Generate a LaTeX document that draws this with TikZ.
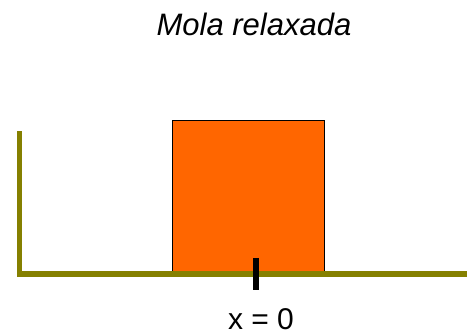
\documentclass[tikz,border=0pt]{standalone}
\usepackage{fontspec}
\setmainfont{Liberation Sans}
\definecolor{olivewall}{HTML}{858000}
\definecolor{blockorange}{HTML}{FF6600}
\tikzset{
  wall/.style={draw=olivewall, line width=5.5pt},
  block/.style={draw=black, line width=1pt, fill=blockorange},
  marker/.style={draw=black, line width=6pt},
  titletext/.style={font=\itshape\fontsize{31}{36}\selectfont, inner sep=0pt, anchor=base},
  labeltext/.style={font=\fontsize{30}{34}\selectfont, inner sep=0pt, anchor=base}
}
\begin{document}
\begin{tikzpicture}[x=1pt,y=1pt]
\useasboundingbox (0,0) rectangle (467,331);
% block
\draw[block] (172,59) rectangle (324.5,210.5);
% wall and floor
\coordinate (walltop) at (19.5,199.5);
\coordinate (corner) at (19.5,57);
\coordinate (floorend) at (467,57);
\draw[wall] (walltop) -- (corner) -- (floorend);
% zero marker
\coordinate (tickup) at (255.5,73);
\coordinate (tickdown) at (255.5,41);
\draw[marker] (tickup) -- (tickdown);
% texts
\node[titletext] (title) at (254,295) {Mola relaxada};
\node[labeltext] (zero) at (261,1.6) {x = 0};
\end{tikzpicture}
\end{document}
